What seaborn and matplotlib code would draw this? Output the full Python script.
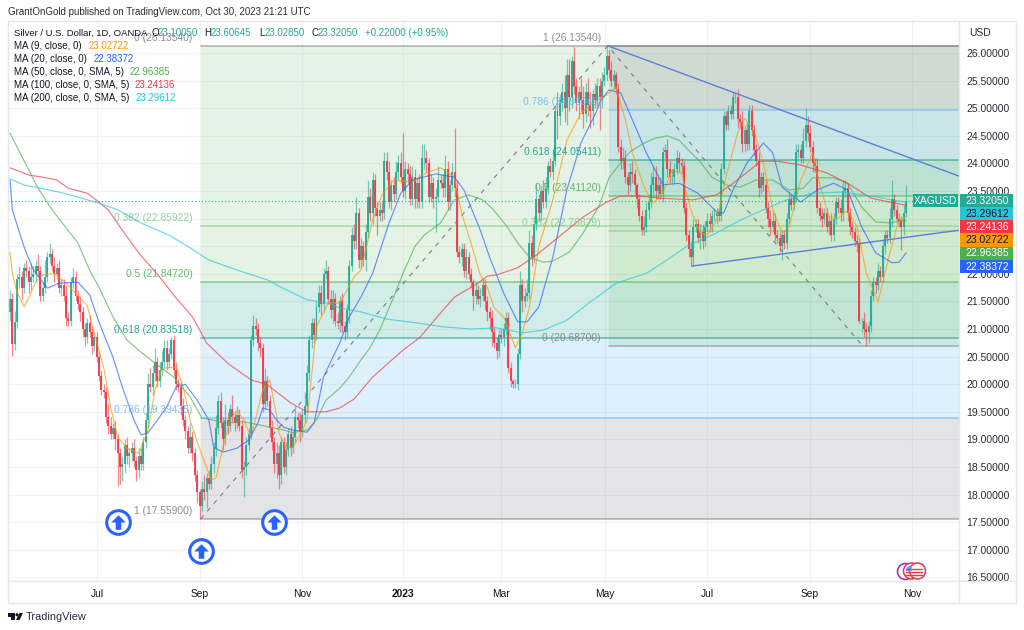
import matplotlib
matplotlib.use("Agg")
import matplotlib.pyplot as plt
from matplotlib.markers import MarkerStyle
from matplotlib.patches import Circle, Polygon, Rectangle, Wedge
from matplotlib.path import Path
from matplotlib.transforms import IdentityTransform
import numpy as np
import pandas as pd
import seaborn as sns

# daily candles (bar 0 is the left edge, mid May 2022)
closes = [
    21.55, 20.72, 21.12, 21.90, 21.95, 21.75, 22.10, 22.05, 21.85, 21.95,
    22.00, 22.15, 22.05, 21.60, 21.75, 21.95, 22.30, 22.35, 22.15, 22.00,
    22.10, 21.75, 21.80, 21.60, 21.20, 21.15, 21.85, 21.95, 21.60, 21.45,
    21.30, 21.00, 20.85, 21.10, 20.95, 20.70, 20.85, 20.50, 20.15, 19.90,
    19.85, 19.40, 19.25, 19.10, 19.20, 19.00, 18.75, 18.50, 18.55, 18.90,
    18.70, 18.75, 18.85, 18.60, 18.45, 18.70, 18.55, 18.95, 19.35, 20.00,
    19.95, 20.20, 20.40, 20.05, 20.25, 20.40, 20.65, 20.40, 20.55, 20.80,
    20.25, 20.00, 19.95, 19.60, 19.35, 19.15, 18.85, 19.05, 18.75, 18.35,
    18.05, 17.80, 18.10, 18.05, 18.30, 18.20, 18.55, 18.85, 19.20, 19.70,
    19.30, 19.00, 19.35, 19.25, 19.55, 19.40, 19.30, 19.45, 19.25, 18.45,
    18.50, 18.90, 19.10, 20.80, 21.05, 21.00, 20.75, 20.65, 19.65, 20.05,
    19.70, 19.20, 18.95, 18.55, 18.75, 18.35, 18.95, 18.50, 18.80, 19.10,
    18.85, 19.05, 19.40, 19.35, 19.15, 19.45, 19.60, 20.20, 20.80, 21.10,
    20.90, 21.40, 21.65, 21.45, 22.00, 22.05, 21.55, 21.35, 21.55, 21.15,
    21.10, 21.50, 21.05, 20.95, 21.35, 22.15, 22.70, 22.60, 23.10, 22.25,
    22.50, 22.25, 22.75, 23.40, 23.10, 23.70, 23.20, 23.05, 23.15, 23.10,
    24.05, 23.85, 23.30, 23.60, 23.45, 23.85, 24.00, 23.75, 23.50, 23.90,
    23.80, 23.35, 23.75, 23.35, 23.65, 23.30, 24.10, 24.10, 24.00, 23.40,
    23.65, 23.35, 23.40, 23.70, 23.65, 23.55, 23.90, 23.30, 23.60, 23.85,
    23.55, 22.40, 22.30, 22.45, 22.05, 22.30, 22.00, 21.85, 21.60, 21.70,
    21.55, 21.60, 21.80, 21.50, 21.30, 21.20, 20.95, 20.75, 20.60, 20.90,
    20.85, 21.00, 21.20, 20.30, 20.05, 20.00, 20.00, 20.55, 21.80, 21.50,
    21.60, 21.65, 22.55, 22.30, 22.90, 23.35, 23.10, 23.50, 23.30, 23.55,
    23.95, 23.85, 24.05, 24.95, 24.85, 25.10, 25.30, 25.00, 25.60, 25.20,
    25.85, 25.40, 25.10, 25.30, 25.15, 24.90, 25.30, 25.05, 24.95, 25.25,
    25.15, 25.40, 25.20, 25.50, 25.60, 25.95, 25.70, 25.50, 25.60, 25.35,
    24.30, 24.05, 24.10, 23.75, 23.60, 23.85, 23.80, 23.60, 23.35, 23.05,
    22.80, 22.85, 23.15, 23.30, 23.60, 23.75, 23.50, 23.60, 23.45, 24.20,
    24.25, 23.90, 23.75, 23.75, 23.90, 24.10, 24.00, 23.95, 23.20, 22.70,
    22.45, 22.30, 22.85, 22.90, 22.65, 22.75, 22.60, 22.85, 22.95, 22.90,
    23.05, 23.05, 23.10, 23.05, 23.90, 24.85, 24.70, 24.95, 24.90, 25.20,
    25.20, 24.80, 24.75, 24.35, 24.60, 24.35, 24.95, 24.60, 24.25, 24.05,
    23.55, 23.75, 23.60, 23.20, 23.00, 22.85, 22.95, 22.70, 22.65, 22.50,
    22.70, 22.55, 23.00, 23.35, 23.25, 23.40, 24.20, 24.25, 24.10, 24.40,
    24.70, 24.55, 24.30, 24.00, 23.95, 23.20, 23.05, 23.00, 23.10, 22.85,
    22.95, 22.70, 23.00, 23.30, 23.20, 23.10, 23.50, 23.55, 23.10, 22.85,
    22.75, 22.60, 22.55, 21.15, 21.15, 21.00, 20.95, 21.05, 21.60, 21.85,
    21.80, 22.05, 21.95, 22.50, 22.70, 22.65, 23.00, 23.35, 23.15, 23.00,
    22.95, 22.85, 23.10, 23.32,
]
opens = [
    21.30, 21.55, 20.72, 21.12, 21.90, 21.95, 21.75, 22.10, 22.05, 21.85,
    21.95, 22.00, 22.15, 22.05, 21.60, 21.75, 21.95, 22.30, 22.35, 22.15,
    22.00, 22.10, 21.75, 21.80, 21.60, 21.20, 21.15, 21.85, 21.95, 21.60,
    21.45, 21.30, 21.00, 20.85, 21.10, 20.95, 20.70, 20.85, 20.50, 20.15,
    19.90, 19.85, 19.40, 19.25, 19.10, 19.20, 19.00, 18.75, 18.50, 18.55,
    18.90, 18.70, 18.75, 18.85, 18.60, 18.45, 18.70, 18.55, 18.95, 19.35,
    20.00, 19.95, 20.20, 20.40, 20.05, 20.25, 20.40, 20.65, 20.40, 20.55,
    20.80, 20.25, 20.00, 19.95, 19.60, 19.35, 19.15, 18.85, 19.05, 18.75,
    18.35, 18.05, 17.80, 18.10, 18.05, 18.30, 18.20, 18.55, 18.85, 19.20,
    19.70, 19.30, 19.00, 19.35, 19.25, 19.55, 19.40, 19.30, 19.45, 19.25,
    18.45, 18.50, 18.90, 19.10, 20.80, 21.05, 21.00, 20.75, 20.65, 19.65,
    20.05, 19.70, 19.20, 18.95, 18.55, 18.75, 18.35, 18.95, 18.50, 18.80,
    19.10, 18.85, 19.05, 19.40, 19.35, 19.15, 19.45, 19.60, 20.20, 20.80,
    21.10, 20.90, 21.40, 21.65, 21.45, 22.00, 22.05, 21.55, 21.35, 21.55,
    21.15, 21.10, 21.50, 21.05, 20.95, 21.35, 22.15, 22.70, 22.60, 23.10,
    22.25, 22.50, 22.25, 22.75, 23.40, 23.10, 23.70, 23.20, 23.05, 23.15,
    23.10, 24.05, 23.85, 23.30, 23.60, 23.45, 23.85, 24.00, 23.75, 23.50,
    23.90, 23.80, 23.35, 23.75, 23.35, 23.65, 23.30, 24.10, 24.10, 24.00,
    23.40, 23.65, 23.35, 23.40, 23.70, 23.65, 23.55, 23.90, 23.30, 23.60,
    23.85, 23.55, 22.40, 22.30, 22.45, 22.05, 22.30, 22.00, 21.85, 21.60,
    21.70, 21.55, 21.60, 21.80, 21.50, 21.30, 21.20, 20.95, 20.75, 20.60,
    20.90, 20.85, 21.00, 21.20, 20.30, 20.05, 20.00, 20.00, 20.55, 21.80,
    21.50, 21.60, 21.65, 22.55, 22.30, 22.90, 23.35, 23.10, 23.50, 23.30,
    23.55, 23.95, 23.85, 24.05, 24.95, 24.85, 25.10, 25.30, 25.00, 25.60,
    25.20, 25.85, 25.40, 25.10, 25.30, 25.15, 24.90, 25.30, 25.05, 24.95,
    25.25, 25.15, 25.40, 25.20, 25.50, 25.60, 25.95, 25.70, 25.50, 25.60,
    25.35, 24.30, 24.05, 24.10, 23.75, 23.60, 23.85, 23.80, 23.60, 23.35,
    23.05, 22.80, 22.85, 23.15, 23.30, 23.60, 23.75, 23.50, 23.60, 23.45,
    24.20, 24.25, 23.90, 23.75, 23.75, 23.90, 24.10, 24.00, 23.95, 23.20,
    22.70, 22.45, 22.30, 22.85, 22.90, 22.65, 22.75, 22.60, 22.85, 22.95,
    22.90, 23.05, 23.05, 23.10, 23.05, 23.90, 24.85, 24.70, 24.95, 24.90,
    25.20, 25.20, 24.80, 24.75, 24.35, 24.60, 24.35, 24.95, 24.60, 24.25,
    24.05, 23.55, 23.75, 23.60, 23.20, 23.00, 22.85, 22.95, 22.70, 22.65,
    22.50, 22.70, 22.55, 23.00, 23.35, 23.25, 23.40, 24.20, 24.25, 24.10,
    24.40, 24.70, 24.55, 24.30, 24.00, 23.95, 23.20, 23.05, 23.00, 23.10,
    22.85, 22.95, 22.70, 23.00, 23.30, 23.20, 23.10, 23.50, 23.55, 23.10,
    22.85, 22.75, 22.60, 22.55, 21.15, 21.15, 21.00, 20.95, 21.05, 21.60,
    21.85, 21.80, 22.05, 21.95, 22.50, 22.70, 22.65, 23.00, 23.35, 23.15,
    23.00, 22.95, 22.85, 23.10,
]
# wick lengths above the body and below it
wick_up = [
    .15, .10, .20, .10, .20, .10, .10, .15, .10, .25,
    .15, .10, .20, .10, .10, .30, .10, .20, .10, .15,
    .10, .15, .10, .10, .20, .10, .10, .15, .10, .10,
    .15, .10, .10, .10, .15, .10, .10, .10, .10, .10,
    .10, .10, .25, .15, .10, .15, .10, .10, .15, .10,
    .15, .10, .10, .15, .10, .15, .15, .10, .15, .20,
    .30, .15, .25, .10, .15, .20, .15, .15, .10, .05,
    .10, .15, .10, .10, .15, .10, .10, .25, .10, .10,
    .10, .05, .15, .25, .10, .15, .15, .10, .25, .10,
    .15, .10, .30, .15, .10, .25, .10, .15, .10, .10,
    .10, .15, .10, .10, .20, .15, .10, .10, .10, .25,
    .10, .10, .15, .10, .20, .15, .10, .10, .15, .10,
    .15, .10, .20, .10, .15, .10, .25, .15, .10, .10,
    .10, .10, .15, .15, .10, .20, .10, .15, .15, .10,
    .15, .10, .15, .10, .10, .10, .15, .20, .30, .10,
    .15, .10, .15, .30, .15, .15, .10, .10, .15, .15,
    .15, .15, .20, .10, .15, .20, .15, .20, .80, .15,
    .10, .15, .20, .15, .10, .15, .25, .25, .15, .10,
    .15, .10, .15, .25, .10, .15, .25, .15, .10, .15,
    .80, .15, .10, .10, .10, .15, .10, .10, .05, .15,
    .10, .15, .10, .10, .10, .10, .15, .10, .10, .10,
    .10, .10, .10, .10, .10, .05, .10, .10, .25, .10,
    .15, .25, .25, .15, .15, .30, .10, .10, .20, .20,
    .10, .15, .15, .10, .35, .15, .15, .30, .30, .30,
    .10, .25, .15, .10, .25, .25, .15, .25, .25, .10,
    .20, .15, .15, .15, .15, .18, .10, .15, .10, .05,
    .10, .15, .20, .15, .10, .15, .20, .10, .05, .10,
    .10, .20, .15, .15, .25, .20, .20, .15, .15, .10,
    .10, .20, .15, .15, .10, .15, .10, .10, .10, .10,
    .10, .15, .15, .10, .10, .15, .15, .10, .15, .15,
    .10, .15, .10, .10, .10, .10, .10, .10, .10, .10,
    .07, .15, .10, .20, .10, .15, .10, .10, .10, .10,
    .15, .10, .10, .10, .10, .15, .20, .15, .10, .10,
    .10, .10, .10, .15, .10, .10, .15, .10, .10, .25,
    .30, .15, .15, .10, .10, .15, .10, .15, .10, .10,
    .10, .15, .10, .10, .10, .15, .20, .15, .10, .10,
    .10, .10, .10, .10, .05, .15, .10, .10, .10, .10,
    .10, .15, .10, .10, .10, .10, .20, .35, .10, .10,
    .10, .10, .15, .28,
]
wick_dn = [
    .15, .20, .10, .10, .15, .20, .10, .10, .20, .15,
    .10, .15, .10, .10, .10, .10, .10, .10, .10, .15,
    .10, .10, .15, .10, .15, .10, .10, .10, .10, .10,
    .15, .15, .15, .10, .10, .15, .10, .10, .10, .10,
    .10, .10, .15, .10, .10, .20, .60, .30, .25, .15,
    .15, .20, .15, .10, .20, .15, .10, .10, .10, .15,
    .10, .15, .15, .10, .10, .10, .10, .15, .10, .10,
    .10, .10, .10, .15, .10, .15, .10, .10, .15, .10,
    .20, .24, .10, .15, .30, .10, .10, .15, .15, .10,
    .10, .20, .10, .15, .10, .10, .15, .10, .10, .15,
    .50, .15, .10, .10, .10, .10, .15, .15, .15, .10,
    .10, .15, .15, .15, .25, .25, .15, .10, .15, .10,
    .15, .10, .10, .15, .20, .10, .15, .10, .15, .15,
    .15, .10, .10, .20, .15, .10, .10, .15, .25, .10,
    .10, .15, .10, .15, .10, .25, .10, .15, .15, .15,
    .15, .10, .20, .10, .15, .20, .15, .35, .10, .15,
    .10, .15, .10, .15, .15, .10, .15, .10, .10, .15,
    .15, .10, .10, .15, .15, .10, .10, .20, .15, .10,
    .10, .15, .60, .10, .10, .15, .15, .15, .15, .10,
    .15, .10, .10, .15, .10, .15, .10, .10, .25, .15,
    .10, .15, .10, .15, .15, .20, .25, .10, .15, .10,
    .10, .15, .10, .10, .10, .07, .07, .10, .10, .20,
    .10, .10, .10, .15, .10, .10, .15, .15, .10, .10,
    .10, .10, .15, .10, .40, .15, .15, .25, .30, .25,
    .20, .15, .15, .30, .20, .25, .15, .20, .30, .25,
    .15, .15, .60, .20, .10, .10, .15, .10, .15, .10,
    .10, .15, .15, .10, .15, .10, .15, .15, .15, .10,
    .10, .10, .10, .15, .10, .20, .15, .15, .10, .15,
    .10, .15, .10, .10, .10, .10, .15, .15, .10, .10,
    .15, .15, .15, .10, .10, .20, .15, .10, .10, .15,
    .15, .10, .15, .10, .10, .10, .10, .10, .10, .10,
    .10, .15, .10, .15, .15, .10, .10, .10, .10, .10,
    .15, .10, .10, .10, .15, .15, .10, .10, .10, .10,
    .25, .10, .10, .10, .10, .10, .10, .10, .10, .10,
    .10, .15, .10, .15, .10, .10, .10, .15, .10, .10,
    .15, .10, .10, .10, .10, .15, .15, .10, .15, .15,
    .10, .10, .15, .05, .20, .15, .26, .20, .10, .10,
    .15, .10, .10, .10, .15, .10, .10, .15, .10, .10,
    .10, .42, .15, .07,
]

# moving averages, read at the bends of each line
ma9_bars = [0, 1, 3, 6, 8, 11, 14, 19, 24, 30, 33, 36, 40, 43, 46, 50, 55, 59, 62, 65,
            71, 74, 77, 81, 86, 88, 91, 94, 97, 100, 103, 108, 111, 114, 115, 118, 121, 125, 127, 128,
            131, 136, 141, 147, 150, 153, 155, 159, 164, 172, 178, 184, 190, 193, 197, 201, 204, 207, 211, 216,
            219, 222, 226, 232, 238, 244, 249, 255, 259, 263, 266, 271, 275, 279, 283, 287, 291, 295, 298, 302,
            306, 311, 314, 318, 322, 326, 330, 333, 338, 343, 346, 350, 354, 358, 362, 366, 371, 375, 379, 380, 383]
ma9_vals = [22.39, 22.01, 21.67, 21.40, 21.56, 21.85, 21.98, 22.01, 21.83, 21.56, 21.43, 20.93, 20.31, 19.59, 19.04, 18.84, 18.75, 19.17, 19.89, 20.29,
            20.31, 19.95, 19.35, 18.84, 18.26, 18.30, 18.86, 19.35, 19.53, 19.35, 19.04, 19.89, 20.08, 19.42, 19.12, 18.84, 18.86, 19.17, 19.35, 19.77,
            21.04, 21.47, 21.47, 21.94, 22.07, 22.61, 22.97, 23.43, 23.70, 23.66, 23.83, 23.92, 23.75, 23.10, 22.56, 21.98, 21.76, 21.38, 21.22, 20.66,
            20.93, 21.40, 22.49, 23.34, 24.42, 24.91, 25.09, 25.24, 25.38, 24.79, 24.19, 23.57, 23.28, 23.46, 23.88, 23.83, 23.16, 22.74, 22.70, 22.97,
            23.75, 24.55, 24.82, 24.60, 24.01, 23.16, 22.74, 22.85, 23.70, 24.19, 23.64, 23.03, 23.01, 23.16, 22.85, 22.01, 21.49, 22.20, 22.85, 22.97, 23.03]
ma20_bars = [0, 1, 6, 10, 16, 21, 29, 34, 38, 44, 48, 53, 56, 59, 63, 67, 71, 75, 80, 85,
             87, 91, 97, 102, 106, 108, 111, 114, 117, 121, 127, 130, 134, 138, 141, 145, 150, 155, 162, 167,
             172, 182, 190, 194, 201, 205, 211, 217, 221, 226, 232, 238, 244, 251, 252, 256, 261, 266, 272, 279,
             286, 294, 302, 305, 309, 315, 322, 326, 330, 338, 345, 352, 358, 364, 370, 377, 380, 383]
ma20_vals = [23.70, 23.16, 22.49, 22.07, 21.74, 21.83, 21.85, 21.62, 21.13, 20.49, 19.95, 19.35, 19.08, 19.12, 19.35, 19.59, 19.95, 20.00, 19.71, 19.35,
             18.86, 18.77, 18.84, 18.99, 19.30, 19.57, 19.53, 19.35, 19.22, 19.17, 19.13, 19.30, 20.13, 20.49, 20.75, 21.22, 21.58, 22.01, 22.92, 23.46,
             23.70, 23.81, 23.75, 23.52, 22.79, 22.30, 21.65, 21.13, 21.13, 21.40, 22.30, 23.52, 24.37, 24.97, 25.11, 25.33, 25.28, 24.79, 24.19, 23.61,
             23.64, 23.46, 23.12, 23.10, 23.52, 24.01, 24.37, 24.19, 23.57, 23.30, 23.52, 23.64, 23.52, 22.85, 22.38, 22.20, 22.21, 22.38]
ma50_bars = [0, 12, 18, 24, 29, 34, 38, 44, 50, 56, 63, 70, 77, 82, 87, 91, 100, 117, 121, 127,
             131, 135, 141, 145, 150, 154, 158, 164, 168, 173, 177, 184, 190, 196, 202, 206, 212, 217, 222, 228,
             232, 239, 245, 252, 256, 261, 265, 271, 276, 281, 286, 290, 295, 300, 306, 312, 319, 326, 333, 339,
             343, 352, 358, 364, 370, 377, 380, 383]
ma50_vals = [24.55, 23.55, 23.16, 22.83, 22.56, 22.07, 21.76, 21.22, 20.80, 20.58, 20.35, 20.13, 19.77, 19.39, 19.35, 19.30, 19.32, 19.17, 19.12, 19.17,
             19.35, 19.71, 19.93, 20.13, 20.44, 20.67, 20.98, 21.58, 22.01, 22.49, 22.70, 22.92, 23.34, 23.43, 23.34, 23.19, 22.88, 22.56, 22.30, 22.21,
             22.23, 22.39, 22.74, 23.25, 23.74, 24.01, 24.21, 24.37, 24.46, 24.50, 24.42, 24.24, 24.03, 23.75, 23.61, 23.57, 23.70, 23.70, 23.52, 23.55,
             23.74, 23.74, 23.64, 23.21, 22.94, 22.92, 22.97, 22.96]
ma100_bars = [0, 8, 14, 20, 25, 33, 38, 42, 48, 55, 64, 71, 78, 84, 93, 103, 110, 120, 127, 135,
              141, 147, 155, 168, 175, 184, 190, 200, 204, 208, 217, 225, 234, 245, 255, 261, 269, 278, 292, 302,
              309, 321, 328, 338, 349, 358, 368, 376, 383]
ma100_vals = [23.92, 23.79, 23.75, 23.70, 23.55, 23.46, 23.30, 23.16, 22.79, 22.38, 21.94, 21.56, 21.22, 20.75, 20.38, 20.08, 19.99, 19.66, 19.50, 19.50,
              19.57, 19.73, 20.13, 20.62, 20.84, 21.29, 21.58, 21.83, 21.96, 21.98, 22.11, 22.34, 22.65, 23.03, 23.30, 23.41, 23.41, 23.37, 23.34, 23.43,
              23.64, 24.04, 24.04, 23.97, 23.83, 23.64, 23.37, 23.30, 23.24]
ma200_bars = [0, 6, 13, 21, 29, 38, 46, 56, 68, 77, 85, 97, 110, 118, 127, 136, 141, 150, 161, 174,
              185, 197, 208, 219, 228, 238, 248, 259, 272, 279, 289, 302, 312, 322, 332, 343, 355, 365, 377, 383]
ma200_vals = [23.72, 23.61, 23.55, 23.48, 23.39, 23.28, 23.16, 22.92, 22.70, 22.47, 22.25, 22.07, 21.89, 21.71, 21.53, 21.47, 21.38, 21.31, 21.18, 21.11,
              21.04, 21.00, 21.02, 20.93, 20.98, 21.16, 21.49, 21.83, 22.01, 22.20, 22.49, 22.74, 22.97, 23.16, 23.34, 23.46, 23.48, 23.43, 23.34, 23.30]

# fib retracements
fib_up_levels = ["0", "0.382", "0.5", "0.618", "0.786", "1"]
fib_up_prices = [26.13540, 22.85922, 21.84720, 20.83518, 19.39435, 17.55900]
fib_dn_levels = ["1", "0.786", "0.618", "0.5", "0.382", "0"]
fib_dn_prices = [26.13540, 24.96945, 24.05411, 23.41120, 22.76829, 20.68700]
fib_up_start = 81.5
fib_dn_start = 256.0
fib_line_cols = ["#787b86", "#81c784", "#4caf50", "#089981", "#64b5f6", "#787b86"]
fib_fill_cols = [("#81c784", 0.2), ("#4caf50", 0.15), ("#089981", 0.18), ("#2196f3", 0.14), ("#787b86", 0.2)]
fib_dn_line_cols = ["#787b86", "#64b5f6", "#089981", "#4caf50", "#81c784", "#787b86"]
fib_dn_fill_cols = [("#787b86", 0.2), ("#2196f3", 0.14), ("#089981", 0.18), ("#4caf50", 0.15), ("#81c784", 0.2)]

# trend lines and the two dashed fib diagonals
trend_top_bars, trend_top_vals = [255.5, 405.6], [26.13, 23.77]
trend_low_bars, trend_low_vals = [291.5, 405.6], [22.14, 22.79]
diag_bars = [81.5, 255.5, 364.5]
diag_vals = [17.56, 26.13, 20.69]

idea_bars = [46.2, 81.6, 112.8]
idea_vals = [17.50, 16.98, 17.50]

month_bars = [37.2, 81.2, 124.8, 168, 209.8, 254.3, 297.9, 341.9, 385.5]
month_labels = ["Jul", "Sep", "Nov", "2023", "Mar", "May", "Jul", "Sep", "Nov"]
price_ticks = [16.5, 17, 17.5, 18, 18.5, 19, 19.5, 20, 20.5, 21, 21.5, 22, 22.5, 23, 23.5, 24, 24.5, 25, 25.5, 26]

last_close = 23.32050
ma_names = ["MA (9, close, 0)", "MA (20, close, 0)", "MA (50, close, 0, SMA, 5)",
            "MA (100, close, 0, SMA, 5)", "MA (200, close, 0, SMA, 5)"]
ma_lasts = [23.02722, 22.38372, 22.96385, 23.24136, 23.29612]
ma_cols = ["#ff9800", "#2962ff", "#4caf50", "#f23645", "#26c6da"]

UP = "#22ab94"
DOWN = "#f23645"
TXT = "#131722"
FW, FH = 1024, 630

sns.set_theme(style="white")
plt.rcParams["font.family"] = ["Liberation Sans", "DejaVu Sans"]

fig = plt.figure(figsize=(FW / 100, FH / 100), dpi=100, facecolor="white")
ax = fig.add_axes([8 / FW, 1 - 581 / FH, 951 / FW, 560 / FH])
ax.set_xlim(-0.85, 405.6)
ax.set_ylim(16.435, 26.58)

ax.set_yticks(price_ticks)
ax.set_yticklabels([f"{p:.5f}" for p in price_ticks], fontsize=7.5, color="#2a2e39")
ax.yaxis.tick_right()
ax.set_xticks(month_bars)
ax.set_xticklabels(month_labels, fontsize=7.4, color=TXT)
ax.get_xticklabels()[3].set_fontweight("bold")
ax.tick_params(axis="y", length=0, pad=5)
ax.tick_params(axis="x", length=0, pad=6)
ax.grid(True, color="#f1f2f5", linewidth=0.8)
ax.set_axisbelow(True)
for s in ax.spines.values():
    s.set_visible(False)


def draw_fib(start, prices, levels, fills, line_cols):
    for i, (col, alpha) in enumerate(fills):
        ax.fill_between([start, 405.6], prices[i], prices[i + 1], color=col,
                        alpha=alpha, linewidth=0, zorder=1)
    for p, lev, col in zip(prices, levels, line_cols):
        ax.plot([start, 405.6], [p, p], color=col, alpha=0.55, linewidth=1.2, zorder=1.5)
        ax.annotate(f"{lev} ({p:.5f})", (start, p), xytext=(-8, 8), textcoords="offset pixels",
                    ha="right", va="center", fontsize=7.4, color=col, alpha=0.85, zorder=6)


draw_fib(fib_up_start, fib_up_prices, fib_up_levels, fib_fill_cols, fib_line_cols)
draw_fib(fib_dn_start, fib_dn_prices, fib_dn_levels, fib_dn_fill_cols, fib_dn_line_cols)

ax.plot(diag_bars, diag_vals, color="#787b86", linewidth=0.8, linestyle=(0, (4, 5)), zorder=2)
ax.axhline(last_close, color=UP, linewidth=0.8, linestyle=(0, (1, 2)), zorder=2)

# candles
df = pd.DataFrame({"o": opens, "c": closes, "up": wick_up, "dn": wick_dn})
df["bar"] = np.arange(len(df))
df["top"] = df[["o", "c"]].max(axis=1)
df["bot"] = df[["o", "c"]].min(axis=1)
df["col"] = np.where(df["c"] >= df["o"], UP, DOWN)
ax.vlines(df["bar"], df["bot"] - df["dn"], df["top"] + df["up"], colors=df["col"],
          linewidth=0.9, alpha=0.6, zorder=3)
ax.bar(df["bar"], df["top"] - df["bot"], bottom=df["bot"], width=0.85, color=df["col"],
       alpha=0.9, linewidth=0, zorder=3.2)

# moving averages
ma_series = [(ma9_bars, ma9_vals), (ma20_bars, ma20_vals), (ma50_bars, ma50_vals),
             (ma100_bars, ma100_vals), (ma200_bars, ma200_vals)]
for (bars, vals), col in zip(ma_series, ma_cols):
    sns.lineplot(x=bars, y=vals, ax=ax, color=col, linewidth=0.85, alpha=0.68,
                 estimator=None, sort=False, zorder=4)

ax.plot(trend_top_bars, trend_top_vals, color="#5b7fd9", linewidth=1.0, zorder=5)
ax.plot(trend_low_bars, trend_low_vals, color="#5b7fd9", linewidth=1.0, zorder=5)

# the three "idea" arrows under the lows
arrow = Path([(0, 1), (1, 0), (0.38, 0), (0.38, -1), (-0.38, -1), (-0.38, 0), (-1, 0), (0, 1)])
ax.scatter(idea_bars, idea_vals, s=290, facecolor="white", edgecolor="#2962ff", linewidth=2.2, zorder=7)
ax.scatter(idea_bars, idea_vals, s=110, marker=MarkerStyle(arrow), color="#2962ff", linewidth=0, zorder=8)
ax.set_xlabel("")
ax.set_ylabel("")


def ty(y):
    return 1 - y / FH


def put(x, y, s, col=TXT, size=7.0, **kw):
    return fig.text(x / FW, ty(y), s, color=col, fontsize=size, va="center", **kw)


def box(x0, y0, x1, y1, col):
    fig.add_artist(Rectangle((x0 / FW, ty(y1)), (x1 - x0) / FW, (y1 - y0) / FH, color=col, linewidth=0, zorder=3))


def rule(x0, y0, x1, y1):
    fig.add_artist(plt.Line2D([x0 / FW, x1 / FW], [ty(y0), ty(y1)], color="#e6e7ea", linewidth=1, zorder=2))


# pane frame
rule(8, 21, 1016, 21)
rule(8, 21, 8, 603)
rule(1016, 21, 1016, 603)
rule(8, 603, 1016, 603)
rule(8, 581, 1016, 581)
rule(959, 21, 959, 603)

put(8, 12, "GrantOnGold published on TradingView.com, Oct 30, 2023 21:21 UTC", col="#2a2e39", size=7.0)
put(14, 33, "Silver / U.S. Dollar, 1D, OANDA", size=6.8)
for x, s, col in [(151, "O", TXT), (158, "23.10050", UP), (204, "H", TXT), (211, "23.60645", UP),
                  (259, "L", TXT), (265, "23.02850", UP), (311, "C", TXT), (318, "23.32050", UP),
                  (365, "+0.22000 (+0.95%)", UP)]:
    put(x, 33, s, col=col)
ma_rows = [46, 59, 72, 85, 98]
ma_value_x = [89, 94, 130, 135, 136]
for row, name, xv, last, col in zip(ma_rows, ma_names, ma_value_x, ma_lasts, ma_cols):
    put(14, row, name)
    put(xv, row, f"{last:.5f}", col=col)

put(969, 33, "USD", size=7.5, col="#2a2e39")

# last value tags on the price scale
box(913, 194, 958, 207, UP)
put(935.5, 200.5, "XAGUSD", col="white", size=7.4, ha="center")
tag_rows = [(last_close, UP, "white", 200.5), (ma_lasts[4], ma_cols[4], TXT, 213.7), (ma_lasts[3], ma_cols[3], "white", 227),
            (ma_lasts[0], ma_cols[0], TXT, 240), (ma_lasts[2], ma_cols[2], "white", 253.2), (ma_lasts[1], ma_cols[1], "white", 266.5)]
for val, col, tcol, row in tag_rows:
    box(960, row - 6.6, 1013, row + 6.6, col)
    put(987, row, f"{val:.5f}", col=tcol, size=7.5, ha="center")

# economic flags at the bottom
pix = IdentityTransform()
def flag(px, py, edge):
    y = FH - py
    fig.add_artist(Circle((px, y), 8, transform=pix, facecolor="white", edgecolor=edge, linewidth=1.1, zorder=4))


flag(905.5, 571.5, "#9c27b0")
flag(911.5, 571, "#f23645")
flag(917.5, 571, "#f23645")
fig.add_artist(Wedge((911.5, FH - 571), 5.5, 90, 180, transform=pix, facecolor="#42a5f5", linewidth=0, zorder=5))
for row in [569, 572, 575]:
    fig.add_artist(plt.Line2D([906, 922], [FH - row, FH - row], transform=pix, color="#f23645", linewidth=1, zorder=5))

# logo and wordmark
fig.add_artist(Rectangle((8, FH - 616.5), 7, 3.5, transform=pix, color="#131722", linewidth=0, zorder=4))
fig.add_artist(Rectangle((11, FH - 620), 4, 7, transform=pix, color="#131722", linewidth=0, zorder=4))
fig.add_artist(Circle((17, FH - 614.8), 1.6, transform=pix, color="#131722", linewidth=0, zorder=4))
fig.add_artist(Polygon([(16, FH - 620), (19.5, FH - 620), (23, FH - 613), (19.5, FH - 613)], closed=True, transform=pix,
                       color="#131722", linewidth=0, zorder=4))
put(26, 617, "TradingView", col="#2a2e39", size=7.9)

fig.savefig("out.png", dpi=100, facecolor="white")
